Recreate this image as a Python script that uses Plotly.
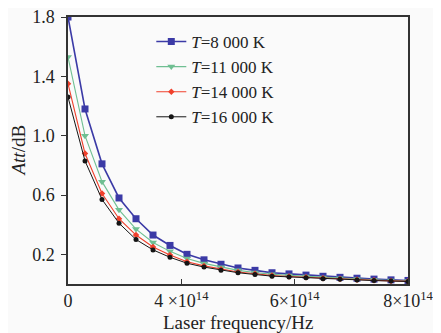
import plotly.graph_objects as go

# Laser frequency (Hz), 21 samples
freq = [i * 4e13 for i in range(21)]

att_8000 = [1.80, 1.18, 0.81, 0.58, 0.44, 0.33, 0.26, 0.20, 0.163, 0.133, 0.108,
            0.092, 0.076, 0.068, 0.060, 0.052, 0.045, 0.039, 0.033, 0.028, 0.024]
att_11000 = [1.53, 1.00, 0.69, 0.50, 0.37, 0.28, 0.22, 0.172, 0.139, 0.113, 0.092,
             0.078, 0.065, 0.058, 0.051, 0.044, 0.038, 0.033, 0.028, 0.024, 0.020]
att_14000 = [1.35, 0.88, 0.61, 0.44, 0.33, 0.25, 0.195, 0.150, 0.122, 0.100, 0.081,
             0.069, 0.057, 0.051, 0.045, 0.039, 0.034, 0.029, 0.025, 0.021, 0.018]
att_16000 = [1.26, 0.83, 0.57, 0.41, 0.30, 0.23, 0.18, 0.140, 0.114, 0.093, 0.076,
             0.064, 0.053, 0.048, 0.042, 0.036, 0.032, 0.027, 0.023, 0.020, 0.017]

series_names = ["<i>T</i>=8 000 K", "<i>T</i>=11 000 K", "<i>T</i>=14 000 K", "<i>T</i>=16 000 K"]

x_tick_vals = [0, 8e14 / 3, 16e14 / 3, 8e14]
x_tick_text = ["0", "4 ×10<sup>14</sup>", "6×10<sup>14</sup>", "8×10<sup>14</sup>"]
y_tick_vals = [0.2, 0.6, 1.0, 1.4, 1.8]

x_title = "Laser frequency/Hz"
y_title = "<i>Att</i>/dB"

styles = [
    dict(color="#3b3aa6", symbol="square", size=7, width=1.6),
    dict(color="#6fbf92", symbol="triangle-down", size=7, width=1.1),
    dict(color="#f0402c", symbol="diamond", size=5, width=1.1),
    dict(color="#151515", symbol="circle", size=5, width=1.0),
]

fig = go.Figure()
for name, ys, st in zip(series_names, [att_8000, att_11000, att_14000, att_16000], styles):
    fig.add_trace(go.Scatter(
        x=freq, y=ys, name=name, mode="lines+markers",
        line=dict(color=st["color"], width=st["width"]),
        marker=dict(color=st["color"], symbol=st["symbol"], size=st["size"]),
    ))

font_family = "Liberation Serif, Times New Roman, serif"

# The page body adds an 8px offset, so the figure is 8px smaller and margins shifted.
fig.update_layout(
    width=433, height=325,
    margin=dict(l=60, r=33, t=9, b=49, autoexpand=False),
    paper_bgcolor="#fafafa", plot_bgcolor="#fafafa",
    font=dict(family=font_family, size=17, color="#222"),
    showlegend=True,
    legend=dict(x=0.245, y=0.974, xanchor="left", yanchor="top",
                bgcolor="rgba(0,0,0,0)", font=dict(size=17, family=font_family, color="#222"),
                tracegroupgap=0, itemwidth=30),
    xaxis=dict(
        range=[0, 8e14], tickvals=x_tick_vals, ticktext=x_tick_text, automargin=False,
        showgrid=False, zeroline=False, showline=True, linecolor="#333", linewidth=1.5,
        mirror=True, ticks="inside", ticklen=5, tickcolor="#333", ticklabeloverflow="allow",
        tickfont=dict(size=18, family=font_family, color="#222"),
    ),
    yaxis=dict(
        range=[0, 1.8], tickvals=y_tick_vals, tickformat=".1f", automargin=False,
        showgrid=False, zeroline=False, showline=True, linecolor="#333", linewidth=1.5,
        mirror=True, ticks="outside", ticklen=5, tickcolor="#333", ticklabelstandoff=3,
        ticklabeloverflow="allow",
        tickfont=dict(size=18, family=font_family, color="#222"),
    ),
    annotations=[
        dict(text=x_title, xref="paper", yref="paper", x=0.5, y=-0.145,
             xanchor="center", yanchor="middle", showarrow=False,
             font=dict(size=19, family=font_family, color="#222")),
        dict(text=y_title, xref="paper", yref="paper", x=-0.147, y=0.5,
             xanchor="center", yanchor="middle", showarrow=False, textangle=-90,
             font=dict(size=19, family=font_family, color="#222")),
    ],
)

fig.write_html("out.html")
